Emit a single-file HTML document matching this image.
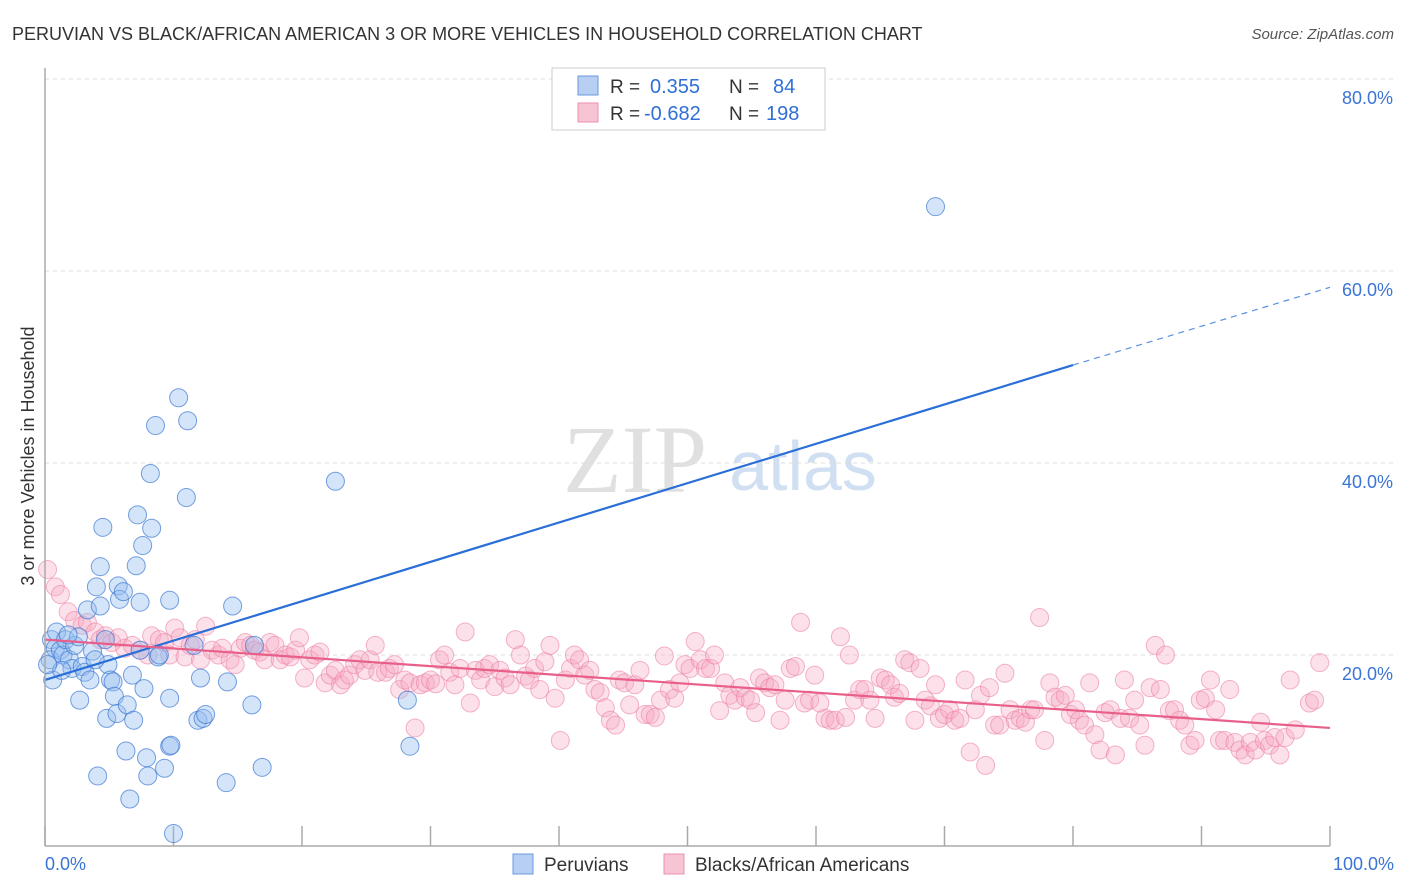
<!DOCTYPE html>
<html><head><meta charset="utf-8"><style>
body{margin:0;background:#fff;font-family:"Liberation Sans",sans-serif;}
#wrap{position:relative;width:1406px;height:892px;overflow:hidden;}
</style></head><body>
<div id="wrap">
<svg id="svg" width="1406" height="892" xmlns="http://www.w3.org/2000/svg">
<text x="12" y="40" font-size="18" fill="#333">PERUVIAN VS BLACK/AFRICAN AMERICAN 3 OR MORE VEHICLES IN HOUSEHOLD CORRELATION CHART</text>
<text x="1394" y="39" font-size="15" fill="#555" font-style="italic" text-anchor="end">Source: ZipAtlas.com</text>
<text x="34" y="456" font-size="18" fill="#333" text-anchor="middle" transform="rotate(-90 34 456)">3 or more Vehicles in Household</text>
<g>
<text x="635" y="492" font-size="96" fill="#d9d9d9" font-family="Liberation Serif,serif" text-anchor="middle" opacity="0.8">ZIP</text>
<text x="803" y="490" font-size="70" fill="#c5d8ee" text-anchor="middle" opacity="0.8">atlas</text>
</g>
<g id="grid"></g>
<g id="pts"></g>
<g id="lines"></g>
<line x1="45" y1="68" x2="45" y2="846" stroke="#aaa" stroke-width="1.5"/>
<line x1="45" y1="846" x2="1330" y2="846" stroke="#aaa" stroke-width="1.5"/>
<text x="45" y="870" font-size="18" fill="#3a74d4">0.0%</text>
<text x="1394" y="870" font-size="18" fill="#3a74d4" text-anchor="end">100.0%</text>
<g>
<rect x="552" y="68" width="273" height="62" fill="#fff" stroke="#ccc"/>
<rect x="578" y="76" width="20" height="19" fill="#b6cff2" stroke="#6a9ae0"/>
<rect x="578" y="103" width="20" height="19" fill="#f7c4d3" stroke="#ec8fac"/>
<text x="610" y="93" font-size="19" fill="#333">R =</text><text x="650" y="93" font-size="20" fill="#2f6fd6">0.355</text>
<text x="729" y="93" font-size="19" fill="#333">N =</text><text x="773" y="93" font-size="20" fill="#2f6fd6">84</text>
<text x="610" y="120" font-size="19" fill="#333">R =</text><text x="644" y="120" font-size="20" fill="#2f6fd6">-0.682</text>
<text x="729" y="120" font-size="19" fill="#333">N =</text><text x="766" y="120" font-size="20" fill="#2f6fd6">198</text>
</g>
<g>
<rect x="513" y="854" width="20" height="20" fill="#b6cff2" stroke="#6a9ae0"/>
<text x="544" y="871" font-size="19" fill="#333">Peruvians</text>
<rect x="664" y="854" width="20" height="20" fill="#f7c4d3" stroke="#ec8fac"/>
<text x="695" y="871" font-size="19" fill="#333">Blacks/African Americans</text>
</g>
</svg>
</div>
<script>
const yTicks=[20,40,60,80];
const yTickLabels=["20.0%","40.0%","60.0%","80.0%"];
const xTicks=[0,10,20,30,40,50,60,70,80,90,100];
const blue=[[0.5,21.6],[0.8,20.7],[0.4,19.5],[0.6,17.4],[0.9,22.4],[1.2,20.5],[1.4,20.0],[1.6,21.6],[1.9,19.5],[2.1,18.6],[2.3,21.0],[2.6,21.9],[2.7,15.3],[2.9,18.8],[3.1,18.2],[3.3,24.7],[3.5,17.4],[3.7,20.4],[4.0,27.1],[4.1,7.4],[4.3,29.2],[4.3,25.1],[4.5,33.3],[4.7,21.6],[4.8,13.4],[4.9,19.0],[5.1,17.4],[5.3,17.2],[5.4,15.7],[5.6,13.9],[5.7,27.2],[5.8,25.8],[6.1,26.6],[6.3,10.0],[6.4,14.8],[6.6,5.0],[6.8,17.9],[6.9,13.2],[7.1,29.3],[7.2,34.6],[7.4,25.5],[7.6,31.4],[7.7,16.5],[7.9,9.3],[8.0,7.4],[8.2,38.9],[8.3,33.2],[8.6,43.9],[8.8,19.8],[9.3,8.2],[9.7,10.5],[9.7,15.5],[9.7,25.7],[9.8,10.6],[10.0,1.4],[10.4,46.8],[11.0,36.4],[11.1,44.4],[11.6,21.0],[11.9,13.2],[12.1,17.6],[12.3,13.4],[12.5,13.8],[14.1,6.7],[14.2,17.2],[14.6,25.1],[16.1,14.8],[16.3,21.0],[16.9,8.3],[22.6,38.1],[28.2,15.3],[28.4,10.5],[69.3,66.7],[8.9,20.0],[3.9,19.5],[1.3,18.4],[0.2,19.0],[1.8,22.1],[7.4,20.5]];
const pink=[[0.2,28.9],[0.8,27.1],[1.2,26.3],[1.8,24.5],[2.3,23.6],[2.9,23.1],[3.3,23.4],[3.9,22.4],[4.3,21.6],[4.7,22.0],[5.2,21.3],[5.7,21.8],[6.2,20.7],[6.8,21.0],[7.4,20.5],[8.0,20.0],[8.3,22.0],[8.9,21.6],[9.3,21.3],[9.7,20.0],[10.1,22.8],[10.5,21.8],[10.9,19.8],[11.3,21.0],[11.7,21.6],[12.1,19.5],[12.5,23.0],[13.0,20.5],[13.5,20.0],[13.8,20.7],[14.4,19.5],[14.8,19.0],[15.2,20.7],[15.6,21.3],[16.0,21.0],[16.3,20.5],[16.7,20.3],[17.1,19.5],[17.5,21.3],[17.9,21.0],[18.3,19.5],[18.7,20.0],[19.1,19.8],[19.5,20.5],[19.8,21.8],[20.2,17.6],[20.6,19.5],[21.0,20.0],[21.4,20.3],[21.8,17.1],[22.2,17.9],[22.6,18.4],[23.0,16.9],[23.3,17.4],[23.7,17.9],[24.1,19.0],[24.5,19.5],[24.9,18.4],[25.3,19.5],[25.7,21.0],[25.9,18.2],[26.5,18.2],[26.8,18.6],[27.2,19.0],[27.6,16.4],[28.0,17.4],[28.4,17.1],[28.8,12.4],[29.2,16.9],[29.6,17.1],[30.0,17.4],[30.4,17.0],[30.7,19.5],[31.1,20.0],[31.5,18.2],[31.9,16.9],[32.3,18.6],[32.7,22.4],[33.1,15.0],[33.5,18.4],[33.9,17.4],[34.2,18.6],[34.6,19.0],[35.0,16.7],[35.4,18.4],[35.8,17.6],[36.2,16.9],[36.6,21.6],[37.0,20.0],[37.4,17.8],[37.7,17.4],[38.1,18.6],[38.5,16.4],[38.9,19.3],[39.3,21.0],[39.7,15.5],[40.1,11.1],[40.5,17.4],[40.9,18.6],[41.2,20.0],[41.6,19.5],[42.0,17.9],[42.4,18.4],[42.8,16.4],[43.2,16.1],[43.6,14.5],[44.0,13.2],[44.4,12.7],[44.7,17.4],[45.1,17.1],[45.5,14.8],[45.9,16.9],[46.3,18.4],[46.7,13.8],[47.1,13.8],[47.5,13.5],[47.9,15.3],[48.2,19.9],[48.6,16.4],[49.0,15.5],[49.4,17.1],[49.8,19.0],[50.2,18.6],[50.6,21.4],[51.0,19.5],[51.4,18.6],[51.8,18.6],[52.1,20.0],[52.5,14.2],[52.9,17.1],[53.3,15.8],[53.7,15.3],[54.1,16.6],[54.5,15.6],[54.9,15.3],[55.3,14.0],[55.6,17.6],[56.0,17.1],[56.4,16.6],[56.8,16.9],[57.2,13.2],[57.6,15.3],[58.0,18.6],[58.4,18.8],[58.8,23.4],[59.1,15.0],[59.5,15.3],[59.9,17.9],[60.3,15.0],[60.7,13.4],[61.1,13.2],[61.5,13.2],[61.9,21.9],[62.3,13.5],[62.6,20.0],[63.0,15.3],[63.4,16.4],[63.8,16.4],[64.2,15.3],[64.6,13.4],[65.0,17.6],[65.4,17.4],[65.8,16.9],[66.1,15.6],[66.5,16.0],[66.9,19.5],[67.3,19.2],[67.7,13.2],[68.1,18.6],[68.5,15.3],[68.9,14.7],[69.3,16.9],[69.6,13.4],[70.0,13.8],[70.4,14.3],[70.8,13.2],[71.2,13.4],[71.6,17.4],[72.0,9.9],[72.4,14.3],[72.8,15.8],[73.2,8.5],[73.5,16.6],[73.9,12.7],[74.3,12.7],[74.7,18.1],[75.1,14.3],[75.5,13.2],[75.9,13.4],[76.3,13.0],[76.7,14.3],[77.0,14.3],[77.4,23.9],[77.8,11.1],[78.2,17.1],[78.6,15.6],[79.0,15.3],[79.4,15.8],[79.8,13.8],[80.2,14.3],[80.5,13.2],[80.9,12.7],[81.3,17.1],[81.7,11.7],[82.1,10.1],[82.5,14.0],[82.9,14.3],[83.3,9.6],[83.7,13.4],[84.0,17.4],[84.4,13.4],[84.8,15.3],[85.2,12.7],[85.6,10.6],[86.0,16.6],[86.4,21.0],[86.8,16.4],[87.2,20.0],[87.5,14.2],[87.9,14.3],[88.3,13.2],[88.7,12.7],[89.1,10.6],[89.5,11.1],[89.9,15.3],[90.3,15.5],[90.7,17.4],[91.1,14.3],[91.4,11.1],[91.8,11.1],[92.2,16.4],[92.6,10.9],[93.0,10.1],[93.4,9.6],[93.8,10.9],[94.2,10.1],[94.6,13.0],[94.9,11.1],[95.3,10.6],[95.7,11.4],[96.1,9.6],[96.5,11.4],[96.9,17.4],[97.3,12.2],[98.4,15.0],[98.8,15.3],[99.2,19.2]];
const blueFit=[0,17.4,80,50.2,100,58.3];
const pinkFit=[0,21.6,100,12.4];

const NS="http://www.w3.org/2000/svg";
const X0=45,X1=1330,Y0=847,Y80=79;
function sx(v){return X0+(X1-X0)*v/100;}
function sy(v){return Y0-(Y0-Y80)*v/80;}
function mk(tag,attrs,parent){const e=document.createElementNS(NS,tag);for(const k in attrs)e.setAttribute(k,attrs[k]);parent.appendChild(e);return e;}
const grid=document.getElementById('grid'),pts=document.getElementById('pts'),lines=document.getElementById('lines'),svg=document.getElementById('svg');
yTicks.forEach((t,i)=>{
  const l=mk('line',{x1:X0,x2:1393,y1:sy(t),y2:sy(t),stroke:'#ddd','stroke-dasharray':'4,4'},grid);
  
  
  const tx=mk('text',{x:1393,y:sy(t)+25,'font-size':18,fill:'#3a74d4','text-anchor':'end'},grid);
  tx.textContent=yTickLabels[i];
  
  
});
xTicks.forEach(t=>{
  const l=mk('line',{x1:sx(t),x2:sx(t),y1:826,y2:846,stroke:'#aaa','stroke-width':1.5},grid);
  
  
});
pink.forEach(p=>{
  const c=mk('circle',{cx:sx(p[0]),cy:sy(p[1]),r:9,fill:'rgba(247,170,195,0.35)',stroke:'rgba(236,130,165,0.6)','stroke-width':1},pts);
  
  
});
blue.forEach(p=>{
  const c=mk('circle',{cx:sx(p[0]),cy:sy(p[1]),r:9,fill:'rgba(150,190,240,0.4)',stroke:'rgba(60,120,210,0.7)','stroke-width':1},pts);
  
  
});
const bl=mk('line',{x1:sx(blueFit[0]),y1:sy(blueFit[1]),x2:sx(blueFit[2]),y2:sy(blueFit[3]),stroke:'#2a6fd8','stroke-width':2.2},lines);


const bd=mk('line',{x1:sx(blueFit[2]),y1:sy(blueFit[3]),x2:sx(blueFit[4]),y2:sy(blueFit[5]),stroke:'#5a90e0','stroke-width':1.2,'stroke-dasharray':'6,5'},lines);


const pl=mk('line',{x1:sx(pinkFit[0]),y1:sy(pinkFit[1]),x2:sx(pinkFit[2]),y2:sy(pinkFit[3]),stroke:'#e8608a','stroke-width':2.2},lines);


</script>
</body></html>
